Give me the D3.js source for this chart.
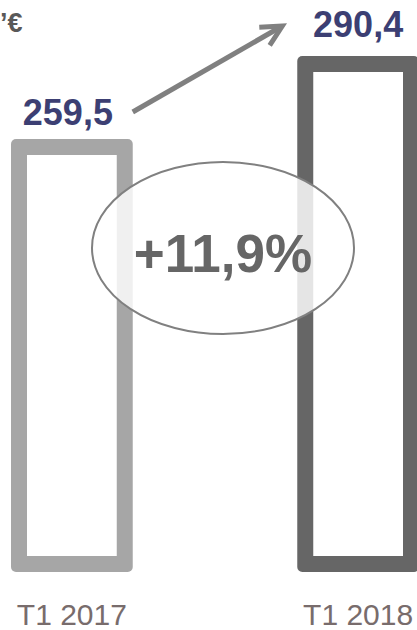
<!DOCTYPE html>
<html>
<head>
<meta charset="utf-8">
<script src="https://cdn.jsdelivr.net/npm/d3@7"></script>
<style>
html,body{margin:0;padding:0;background:#fff;}
svg{display:block;font-family:"Liberation Sans",Arial,sans-serif;}
</style>
</head>
<body>
<svg id="chart" width="417" height="630"></svg>
<script>
const categories = ["T1 2017", "T1 2018"];
const values = [259.5, 290.4];
const valueLabels = ["259,5", "290,4"];
const growthLabel = "+11,9%";
const unitLabel = "’€";

const barColors = ["#a6a6a6", "#666666"];
const W = 417, H = 630;
const svg = d3.select("#chart");

const x = d3.scaleBand().domain(categories).range([11, 419]).paddingInner(0.5747).paddingOuter(0);
const baseY = 572;
const y = d3.scaleLinear().domain([98.3, 290.4]).range([baseY, 56]);
const sw = 16;

// unit label
svg.append("text").attr("x", 0).attr("y", 32)
  .attr("font-size", 27).attr("font-weight", "bold").attr("fill", "#595959")
  .text(unitLabel);

// bars: outer coloured rounded rect + white inner
const g = svg.append("g");
categories.forEach((c, i) => {
  const x0 = x(c), bw = x.bandwidth(), top = y(values[i]);
  g.append("rect").attr("x", x0).attr("y", top).attr("width", bw).attr("height", baseY - top)
    .attr("rx", 5).attr("fill", barColors[i]);
  g.append("rect").attr("x", x0 + sw).attr("y", top + sw).attr("width", bw - 2 * sw).attr("height", baseY - top - 2 * sw)
    .attr("fill", "#fff");
});

// value labels
categories.forEach((c, i) => {
  svg.append("text")
    .attr("x", x(c) + x.bandwidth() / 2 + (i === 0 ? -4 : 0))
    .attr("y", y(values[i]) - (i === 0 ? 14 : 19))
    .attr("text-anchor", "middle").attr("font-size", 36).attr("font-weight", "bold")
    .attr("fill", "#3c3f73").text(valueLabels[i]);
});

// arrow
const sx = x(categories[0]) + x.bandwidth(), sy = y(values[0]) - 27;
const ex = x(categories[1]) - 15, ey = y(values[1]) - 30;
const ang = Math.atan2(ey - sy, ex - sx);
const back = ang + Math.PI, arm = 23, spread = 27 * Math.PI / 180;
svg.append("line").attr("x1", sx).attr("y1", sy).attr("x2", ex - 2 * Math.cos(ang)).attr("y2", ey - 2 * Math.sin(ang))
  .attr("stroke", "#808080").attr("stroke-width", 5);
svg.append("path")
  .attr("d", `M${ex + arm * Math.cos(back - spread)},${ey + arm * Math.sin(back - spread)} L${ex},${ey} L${ex + arm * Math.cos(back + spread)},${ey + arm * Math.sin(back + spread)}`)
  .attr("fill", "none").attr("stroke", "#808080").attr("stroke-width", 5).attr("stroke-linejoin", "miter");

// growth ellipse
svg.append("ellipse").attr("cx", 223).attr("cy", 248).attr("rx", 131).attr("ry", 86)
  .attr("fill", "#fff").attr("fill-opacity", 0.83).attr("stroke", "#808080").attr("stroke-width", 2);
svg.append("text").attr("x", 223).attr("y", 272).attr("text-anchor", "middle")
  .attr("font-size", 53).attr("font-weight", "bold").attr("fill", "#666666").text(growthLabel);

// category labels
svg.selectAll("text.cat").data(categories).enter().append("text").attr("class", "cat")
  .attr("x", d => x(d) + x.bandwidth() / 2).attr("y", 625)
  .attr("text-anchor", "middle").attr("font-size", 30).attr("fill", "#786c6c").text(d => d);
</script>
</body>
</html>
